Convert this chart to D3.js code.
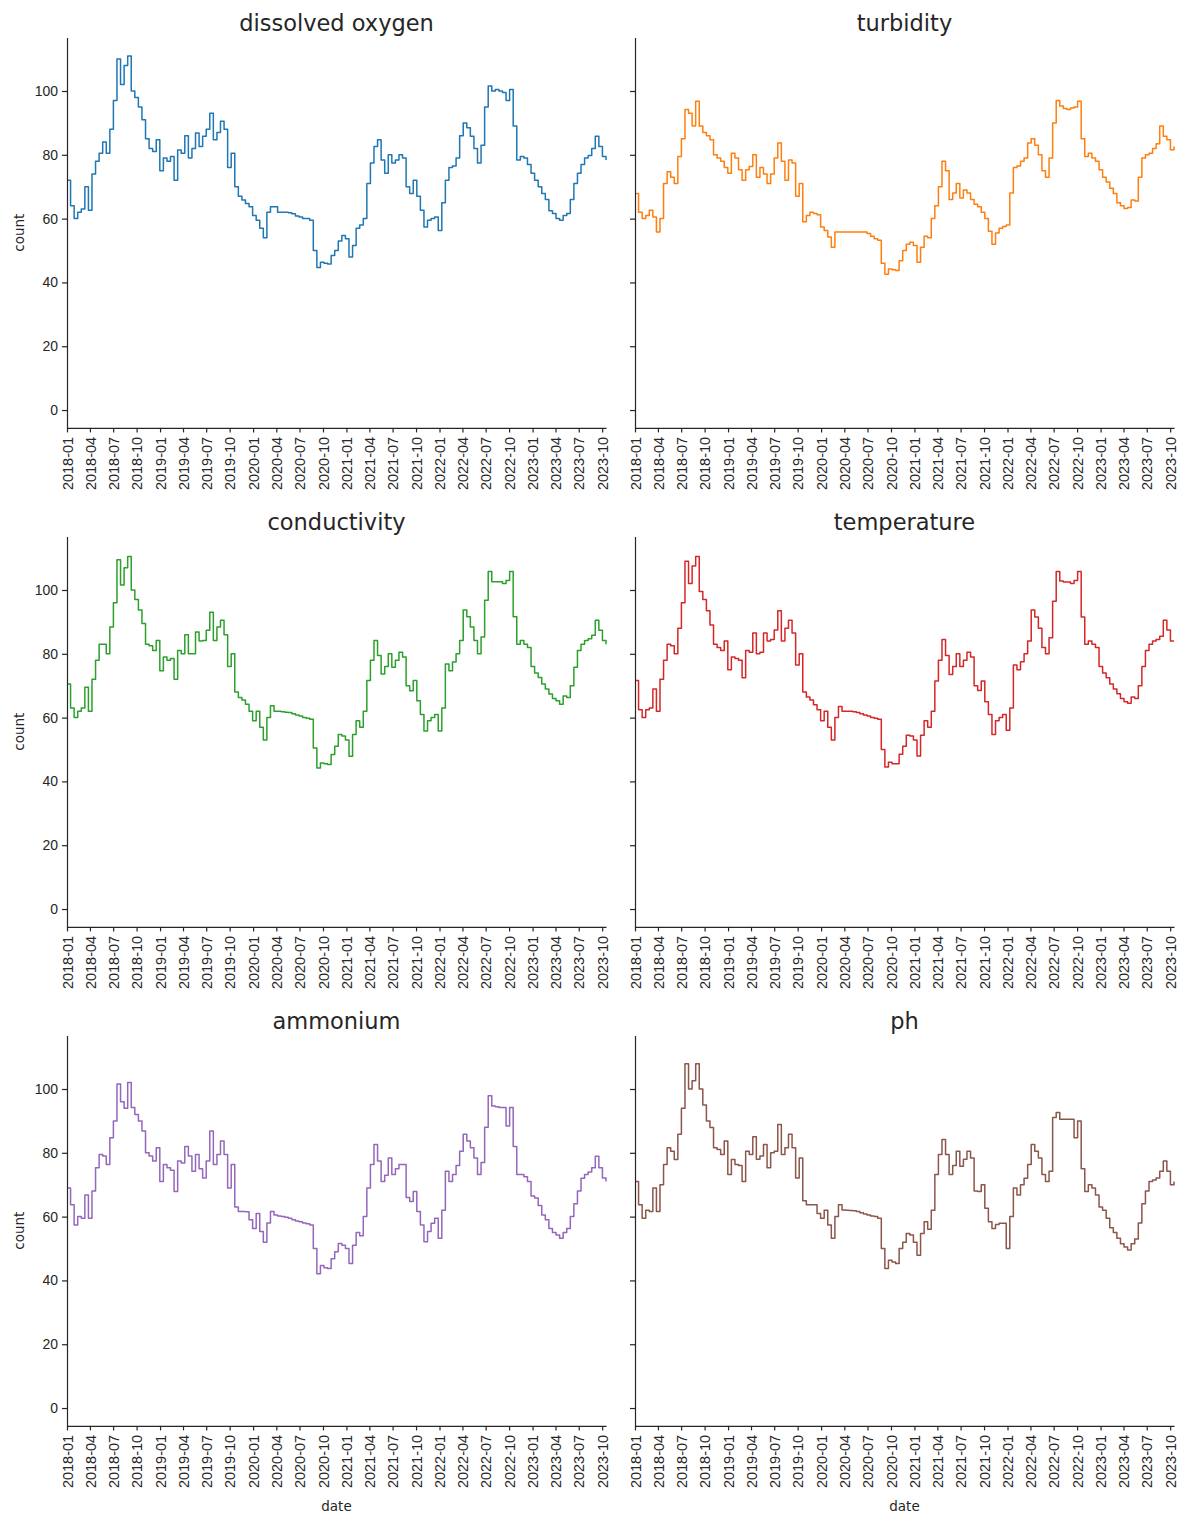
<!DOCTYPE html>
<html>
<head>
<meta charset="utf-8">
<script src="https://cdn.jsdelivr.net/npm/d3@7"></script>
<style>
  body { margin: 0; background: #fff; }
  svg { display: block; font-family: "DejaVu Sans", sans-serif; }
  .axis path, .axis line { stroke: #262626; stroke-width: 1.2; }
  .axis text { fill: #262626; font-size: 14px; }
</style>
</head>
<body>
<script>

var width = 1184,
    height = 1513;

// one reading every 14 days, 2018-01-01 .. 2023-10-16
var dates = d3.utcDay.range(new Date(Date.UTC(2018, 0, 1)), new Date(Date.UTC(2023, 9, 17)), 14);

var xTicks = d3.utcMonth.every(3).range(new Date(Date.UTC(2018, 0, 1)), new Date(Date.UTC(2023, 9, 2)));
var yTicks = [0, 20, 40, 60, 80, 100];

var names = ['dissolved oxygen', 'turbidity', 'conductivity', 'temperature', 'ammonium', 'ph'];
var colors = ['#1f77b4', '#ff7f0e', '#2ca02c', '#d62728', '#9467bd', '#8c564b'];

var dissolvedOxygen = [
  72, 64, 60, 62, 63, 70, 62.6, 74, 78, 80.5,
  84, 80.5, 88, 97, 110, 102, 108, 111, 100, 98,
  95, 91, 85, 82, 81, 84.7, 75, 79, 78, 79.5,
  72, 81.5, 80.5, 86, 79, 82, 86.8, 82.6, 85.8, 88,
  93, 84.7, 87, 90.5, 88, 76, 80.5, 70, 67, 65.8,
  64.7, 63.7, 61, 59.5, 57, 54, 62, 63.7, 63.7, 62,
  62, 62, 61.8, 61.5, 60.8, 60.5, 60, 60, 59.5, 50,
  44.7, 46.3, 46, 45.8, 48.4, 50, 53, 54.7, 53.7, 48,
  51.6, 57, 58, 60, 71, 77.4, 82.6, 84.7, 78.4, 74.2,
  80, 77.4, 78.4, 80, 79, 70, 67.9, 72, 67, 62.6,
  57.4, 59.5, 60, 60.5, 56.3, 65, 72, 76, 76.5, 79,
  86, 90, 88.5, 85.8, 82, 77.4, 83, 95, 101.6, 100,
  100.5, 100, 99.5, 97, 100.5, 89, 78.4, 79.5, 79, 77,
  74.2, 72, 70, 67.9, 66, 62.5, 61.6, 60, 59.5, 61,
  61.6, 66, 71, 74.2, 77, 79, 79.8, 82, 85.8, 82.6,
  79.5, 78.4
];

var turbidity = [
  67.9, 62, 60, 61, 62.6, 60.5, 55.8, 60, 71, 74.7,
  73, 71, 79.5, 85, 94.2, 93, 89, 96.8, 89, 87,
  86, 84.7, 80, 79, 78, 76, 74.2, 80.5, 79, 75.3,
  72, 75.3, 76.3, 80, 73, 76, 74, 71, 74, 79,
  83.7, 78, 72, 78.4, 77.4, 67, 71, 59, 61, 62,
  61.6, 61.2, 57.4, 56.3, 54.2, 51, 55.8, 55.8, 55.8, 55.8,
  55.8, 55.8, 55.8, 55.8, 55.8, 55.3, 54.5, 53.7, 53.2, 46,
  42.6, 44.2, 44, 43.7, 46.8, 50, 52, 52.6, 51.6, 46.3,
  51, 54.5, 54, 60, 64, 70, 78, 75, 66, 68,
  71, 66.5, 69, 68, 66, 64.5, 63.7, 62, 60, 56,
  52, 55.5, 57, 57.5, 58, 68, 76, 76.5, 78, 79,
  83.7, 85, 83, 80, 75, 73, 79, 90, 97, 95.3,
  94.5, 94.2, 94.7, 95, 96.8, 85, 79.5, 80.5, 79, 78,
  75.3, 73, 71.5, 69.5, 67.9, 65, 64, 63.2, 63.5, 65.8,
  65.5, 73, 79, 80, 80.5, 82, 83.5, 89, 85.8, 84.7,
  81.6, 82.6
];

var conductivity = [
  70.5, 63, 60, 62, 63, 69.5, 62, 72, 78, 83,
  83, 80, 88.4, 96, 109.5, 101.6, 107, 110.5, 100, 97,
  93.7, 89.5, 83, 82.5, 81, 84.2, 74.7, 79, 78, 78.5,
  72, 81, 80, 86, 80, 80, 86.8, 84, 84.2, 87.4,
  93, 84.2, 88.4, 90.5, 86, 76, 80, 68, 66.3, 65.5,
  64.2, 62, 59, 62, 57, 53, 60, 63.7, 62, 62,
  61.8, 61.7, 61.6, 61.2, 60.8, 60.5, 60, 59.8, 59.5, 50.5,
  44.2, 45.8, 45.5, 45.3, 48.4, 51, 54.7, 54.2, 53, 47.9,
  54.7, 59, 57, 62, 71.6, 78, 84.2, 79.5, 73.7, 76,
  80, 75.8, 78, 80.5, 79, 70, 68.4, 71.6, 65.3, 61,
  55.8, 59, 60, 61, 55.8, 63, 76.8, 74.7, 77.4, 80,
  84.2, 93.7, 91.6, 88.4, 84.2, 80, 85.3, 96.8, 105.8, 102.6,
  102.6, 102.6, 102, 103, 105.8, 91.6, 83, 84.2, 83, 82,
  76, 74, 72.6, 70.5, 69, 67.4, 66, 65.3, 64.2, 66.8,
  66.3, 70, 75.8, 81, 83, 84.2, 84.7, 85.8, 90.5, 87.4,
  84.2, 83
];

var temperature = [
  71.6, 62.5, 60, 62.5, 63, 69, 62, 72, 78, 83,
  82.5, 80, 88, 96, 109, 102, 107.5, 110.5, 99.5, 97,
  93.5, 89, 83, 82, 81, 84, 75, 79, 78.5, 78,
  72.5, 81, 80.5, 86.5, 80, 80.5, 86.5, 84, 84.5, 87.5,
  93.5, 84, 88, 90.5, 86.5, 76.5, 80, 68, 66.5, 65.5,
  64, 62.5, 59, 62, 57, 53, 60, 63.5, 62, 62,
  62, 61.8, 61.6, 61.2, 60.8, 60.5, 60, 59.8, 59.5, 50,
  44.5, 46, 45.5, 45.5, 48.5, 51, 54.5, 54.2, 53, 48,
  54.5, 59, 57, 62, 71.5, 78, 84.5, 79.5, 73.5, 76,
  80, 76, 78, 80.5, 79, 70, 68.5, 71.5, 65, 61,
  54.7, 59, 60, 61, 56, 63, 76.5, 75, 77.5, 80,
  84, 93.7, 91.5, 88, 82, 80, 85, 96.5, 105.8, 102.8,
  102.5, 102.5, 102, 103, 105.8, 91.5, 83, 84, 83, 82,
  76, 74, 72.5, 70.5, 69, 67.5, 66, 65, 64.5, 66.5,
  66, 70, 76, 81, 83, 84, 84.5, 85.5, 90.5, 87.5,
  84, 84
];

var ammonium = [
  69, 63.7, 57.4, 60, 59.5, 66.8, 59.5, 68, 75.3, 79.5,
  79, 76.3, 84.7, 90, 101.6, 96, 94, 102, 94.2, 92,
  90, 86.8, 80, 79, 77.4, 81.6, 71, 76.3, 75.3, 74.5,
  67.9, 77.4, 76.8, 82, 79, 74.2, 79.5, 75, 72.1, 77.4,
  86.8, 76.3, 79.5, 83.7, 79.5, 69, 76.3, 63, 61.6, 61.6,
  61.5, 59, 56.3, 61, 55.3, 52, 58, 61.6, 60.5, 60.2,
  60, 59.8, 59.5, 59, 58.6, 58.4, 58, 57.8, 57.4, 50,
  42.1, 44.7, 44, 43.7, 46.8, 49, 51.6, 51, 50, 45.3,
  51, 55, 54, 60, 69, 76.3, 82.6, 77.4, 71, 73,
  78.4, 73.2, 75, 76.3, 76.3, 66, 64.7, 67.9, 61.6, 57.4,
  52.1, 55.3, 57.9, 59.5, 53.2, 62, 74.2, 71, 73.2, 76,
  80.5, 85.8, 83.7, 81.6, 78.4, 73.2, 77, 88, 97.9, 94.7,
  94.4, 94.2, 94.2, 88.4, 94.2, 82, 73.2, 73.2, 72.5, 71,
  66.5, 65.8, 63.5, 60.5, 59, 56.3, 55, 54.2, 53.2, 55,
  56.3, 60, 64, 68, 72, 73.2, 74, 75.3, 78.9, 75.3,
  72.1, 71
];

var ph = [
  71, 63.7, 59.5, 62, 61.6, 69, 61.6, 70, 76.3, 81.6,
  80.5, 77.9, 85.8, 94, 107.9, 100, 102.6, 107.9, 100, 95,
  90, 87.9, 81.6, 81, 79.5, 83.7, 73.2, 77.9, 76.3, 76,
  71, 80.5, 79.5, 85, 78, 79, 82.6, 75.3, 80, 80.5,
  88.9, 79.5, 81.6, 85.8, 81.6, 72.1, 78.4, 65, 63.7, 63.7,
  63.7, 61, 59.5, 62, 57.4, 53.2, 60, 63.7, 62.1, 62,
  61.9, 61.8, 61.6, 61.2, 60.8, 60.5, 60.2, 60, 59.5, 50,
  43.7, 46.3, 45.8, 45.3, 50, 52, 54.7, 54.2, 52, 47.9,
  54.7, 58.4, 56, 62, 73.2, 79.5, 84.2, 79.5, 73.2, 76,
  80.5, 75.8, 78, 80.5, 78.4, 68, 67.9, 70, 62.6, 58.4,
  56.3, 57.5, 57.9, 57.9, 50, 60, 69, 66.8, 70, 72,
  76.3, 82.6, 80.5, 78.4, 73.2, 71, 74.2, 91.1, 92.6, 90.5,
  90.5, 90.5, 90.5, 84.7, 90, 75, 67.9, 70, 69, 66.8,
  63, 62, 59.5, 56.5, 55, 53.2, 51.5, 50.5, 49.5, 51.5,
  53, 58, 64, 68, 71, 71.5, 72.1, 74.2, 77.4, 74.2,
  70, 71
];

var series = [dissolvedOxygen, turbidity, conductivity, temperature, ammonium, ph];

// facet grid geometry
var colX = [67, 635],
    rowY = [37.4, 536.4, 1035.4],
    plotW = 539,
    plotH = 390.5;

var svg = d3.select('body')
  .append('svg')
  .attr('width', width)
  .attr('height', height);

var x = d3.scaleUtc()
  .domain(d3.extent(dates))
  .range([0, plotW]);

var y = d3.scaleLinear()
  .domain([-5.6, 116.8])
  .range([plotH, 0]);

var line = d3.line()
  .curve(d3.curveStepAfter)
  .x(function(d, i) { return x(dates[i]); })
  .y(function(d) { return y(d); });

names.forEach(function(name, i) {
  var col = i % 2,
      row = Math.floor(i / 2);

  var g = svg.append('g')
    .attr('transform', 'translate(' + colX[col] + ',' + rowY[row] + ')');

  g.append('path')
    .datum(series[i])
    .attr('fill', 'none')
    .attr('stroke', colors[i])
    .attr('stroke-width', 1.5)
    .attr('stroke-linejoin', 'round')
    .attr('d', line);

  var xAxis = g.append('g')
    .attr('class', 'axis')
    .attr('transform', 'translate(0,' + plotH + ')')
    .call(d3.axisBottom(x)
      .tickValues(xTicks)
      .tickFormat(d3.utcFormat('%Y-%m'))
      .tickSize(4.5)
      .tickSizeOuter(0));

  xAxis.selectAll('text')
    .style('font-size', '14.5px')
    .attr('transform', 'rotate(-90)')
    .attr('text-anchor', 'end')
    .attr('x', -9)
    .attr('y', 0)
    .attr('dy', '0.35em');

  g.append('g')
    .attr('class', 'axis')
    .call(d3.axisLeft(y)
      .tickValues(yTicks)
      .tickFormat(col === 0 ? d3.format('d') : '')
      .tickSize(5)
      .tickPadding(4)
      .tickSizeOuter(0));

  g.append('text')
    .attr('x', plotW / 2)
    .attr('y', -6)
    .attr('text-anchor', 'middle')
    .style('font-size', '22.5px')
    .style('fill', '#262626')
    .text(name);

  if (col === 0) {
    g.append('text')
      .attr('transform', 'translate(' + (23.5 - colX[0]) + ',' + (plotH / 2) + ') rotate(-90)')
      .attr('text-anchor', 'middle')
      .style('font-size', '13.5px')
      .style('fill', '#262626')
      .text('count');
  }

  if (row === 2) {
    g.append('text')
      .attr('x', plotW / 2)
      .attr('y', 1511 - rowY[row])
      .attr('text-anchor', 'middle')
      .style('font-size', '13.5px')
      .style('fill', '#262626')
      .text('date');
  }
});

</script>
</body>
</html>
